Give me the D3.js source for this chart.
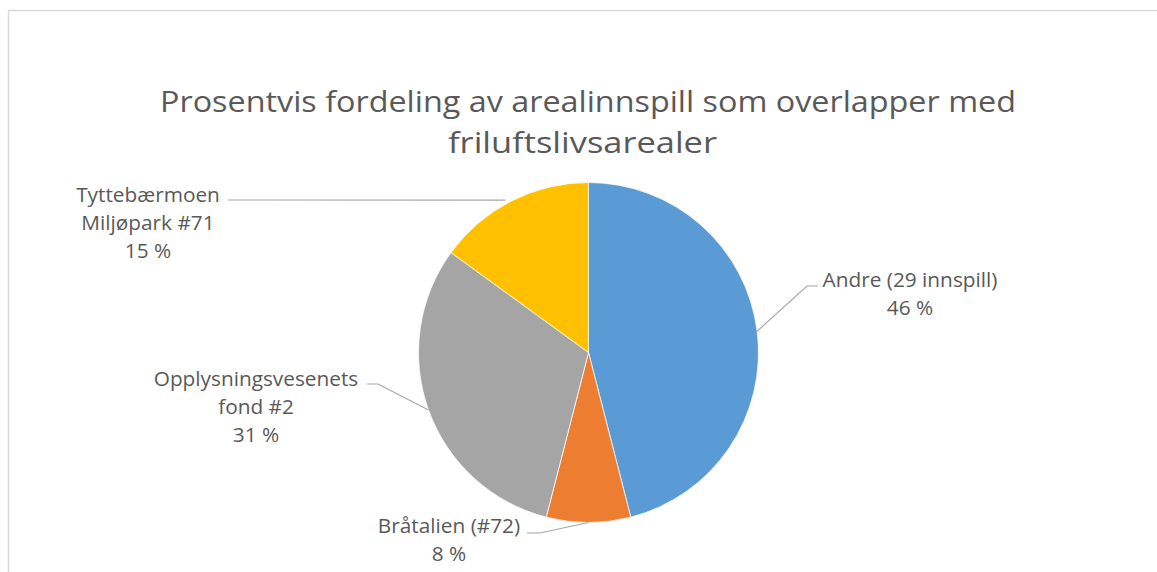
<!DOCTYPE html>
<html>
<head>
<meta charset="utf-8">
<script src="https://cdn.jsdelivr.net/npm/d3@7"></script>
<style>
  body { margin: 0; background: #fff; }
  text { font-family: "Open Sans", "Noto Sans", sans-serif; fill: #595959; }
</style>
</head>
<body>
<div id="chart"></div>
<script>
const categories = ["Andre (29 innspill)", "Bråtalien (#72)", "Opplysningsvesenets fond #2", "Tyttebærmoen Miljøpark #71"];
const values = [46, 8, 31, 15];
const labelLines = [
  ["Andre (29 innspill)"],
  ["Bråtalien (#72)"],
  ["Opplysningsvesenets", "fond #2"],
  ["Tyttebærmoen", "Miljøpark #71"]
];
const colors = ["#5B9BD5", "#ED7D31", "#A5A5A5", "#FFC000"];
const titleLines = ["Prosentvis fordeling av arealinnspill som overlapper med", "friluftslivsarealer"];

const width = 1157, height = 572;
const cx = 588.5, cy = 352.5, radius = 170;

// label anchors: text centre x, first baseline y, leader elbow (ex, ey), leader tail end tx
const labelLayout = [
  {x: 910, y: 287, ex: 807, ey: 286, tx: 818},
  {x: 449, y: 533, ex: 540, ey: 533, tx: 527},
  {x: 256, y: 386, ex: 378, ey: 384, tx: 367},
  {x: 148, y: 202, ex: 228, ey: 200, tx: null}
];
const lineGap = 28;
const labelTarget = 175; // width of "Andre (29 innspill)" in the reference

const svg = d3.select("#chart").append("svg")
  .attr("width", width)
  .attr("height", height);

// outer frame
svg.append("rect")
  .attr("x", 8.5).attr("y", 10.5)
  .attr("width", width + 10).attr("height", height + 10)
  .attr("fill", "none")
  .attr("stroke", "#D9D9D9")
  .attr("stroke-width", 1.5);

// title
const titleSize = 29;
const titleBox = [{y: 112, x: 588, w: 856}, {y: 153, x: 582.5, w: 269}];
titleLines.forEach(function(line, i) {
  svg.append("text")
    .attr("x", titleBox[i].x).attr("y", titleBox[i].y)
    .attr("text-anchor", "middle")
    .attr("textLength", titleBox[i].w)
    .attr("lengthAdjust", "spacingAndGlyphs")
    .style("font-size", titleSize + "px")
    .text(line);
});

const pie = d3.pie().sort(null).value(d => d);
const arcs = pie(values);
const arc = d3.arc().innerRadius(0).outerRadius(radius);

const g = svg.append("g").attr("transform", `translate(${cx},${cy})`);

g.selectAll("path")
  .data(arcs)
  .enter().append("path")
  .attr("d", arc)
  .attr("fill", (d, i) => colors[i])
  .attr("stroke", "#fff")
  .attr("stroke-width", 0.75);

// leader lines: from the label to the middle of each slice's rim
arcs.forEach(function(d, i) {
  const a = (d.startAngle + d.endAngle) / 2;
  const px = cx + radius * Math.sin(a);
  const py = cy - radius * Math.cos(a);
  const L = labelLayout[i];
  let pts;
  if (L.tx === null) pts = [[L.ex, L.ey], [px - 6, py - 1]];
  else pts = [[L.tx, L.ey], [L.ex, L.ey], [px, py]];
  svg.append("path")
    .attr("d", d3.line()(pts))
    .attr("fill", "none")
    .attr("stroke", "#A6A6A6")
    .attr("stroke-width", 1.2);
});

// font size for data labels, fitted on the widest single line
const probe = svg.append("text").style("font-size", "20px").text(labelLines[0][0]);
const labelSize = 20 * labelTarget / probe.node().getComputedTextLength();
probe.remove();

// data labels
arcs.forEach(function(d, i) {
  const L = labelLayout[i];
  const lines = labelLines[i].concat([values[i] + " %"]);
  const text = svg.append("text")
    .attr("text-anchor", "middle")
    .style("font-size", labelSize + "px");
  lines.forEach(function(line, j) {
    text.append("tspan")
      .attr("x", L.x)
      .attr("y", L.y + j * lineGap)
      .text(line);
  });
});
</script>
</body>
</html>
